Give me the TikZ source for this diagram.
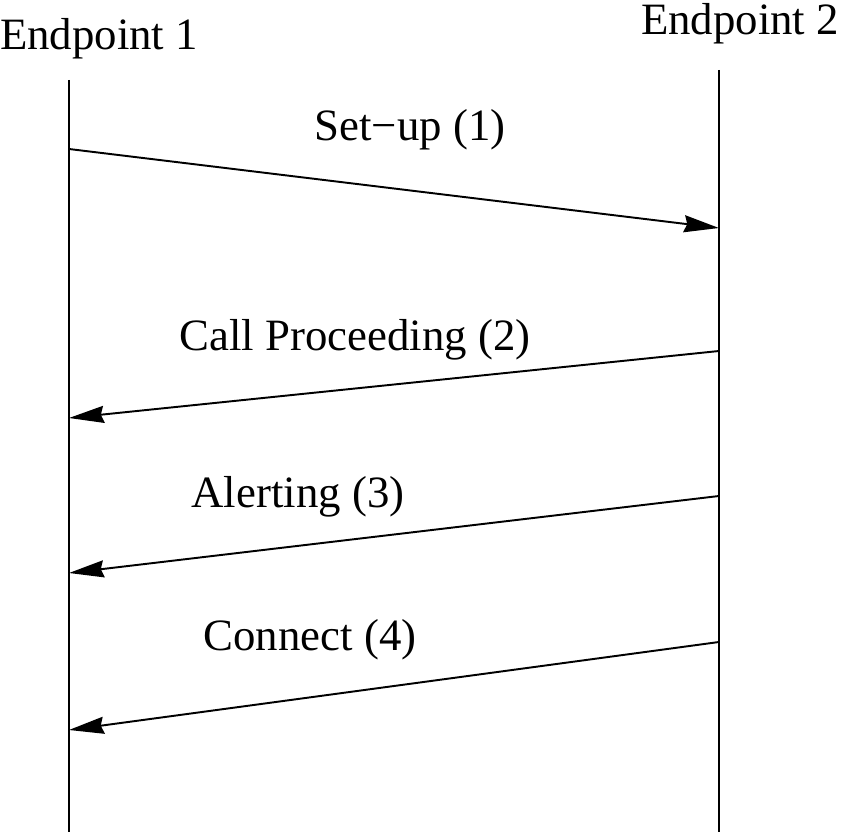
\documentclass[tikz,border=0pt]{standalone}
\usepackage{fontspec}
\setmainfont{Liberation Serif}
\usetikzlibrary{arrows.meta}
\tikzset{
  msg/.style={line width=1.1pt, -{Stealth[length=0.7cm, width=0.34cm, inset=0.06cm]}},
  life/.style={line width=0.8pt},
  lbl/.style={font=\fontsize{25.5}{29}\selectfont, inner sep=0pt, anchor=base}
}
\begin{document}
\begin{tikzpicture}[x=0.02cm, y=-0.02cm]
\useasboundingbox (0,0) rectangle (850,838);

% lifelines and their names
\node[lbl] (ep1) at (99,50) {Endpoint 1};
\node[lbl] (ep2) at (740,35) {Endpoint 2};
\coordinate (l1top) at (69,80);
\coordinate (l1bot) at (69,832);
\coordinate (l2top) at (719,70);
\coordinate (l2bot) at (719,832);
\draw[life] (l1top) -- (l1bot);
\draw[life] (l2top) -- (l2bot);

% message ends
\coordinate (s1) at (69,149);  \coordinate (t1) at (719,228);
\coordinate (s2) at (719,351); \coordinate (t2) at (69,418);
\coordinate (s3) at (719,496); \coordinate (t3) at (69,573);
\coordinate (s4) at (719,642); \coordinate (t4) at (69,730);

% messages
\draw[msg] (s1) -- (t1);
\node[lbl] (m1) at (410,141) {Set−up (1)};
\draw[msg] (s2) -- (t2);
\node[lbl] (m2) at (355,351) {Call Proceeding (2)};
\draw[msg] (s3) -- (t3);
\node[lbl] (m3) at (298,507) {Alerting (3)};
\draw[msg] (s4) -- (t4);
\node[lbl] (m4) at (310,650) {Connect (4)};
\end{tikzpicture}
\end{document}
